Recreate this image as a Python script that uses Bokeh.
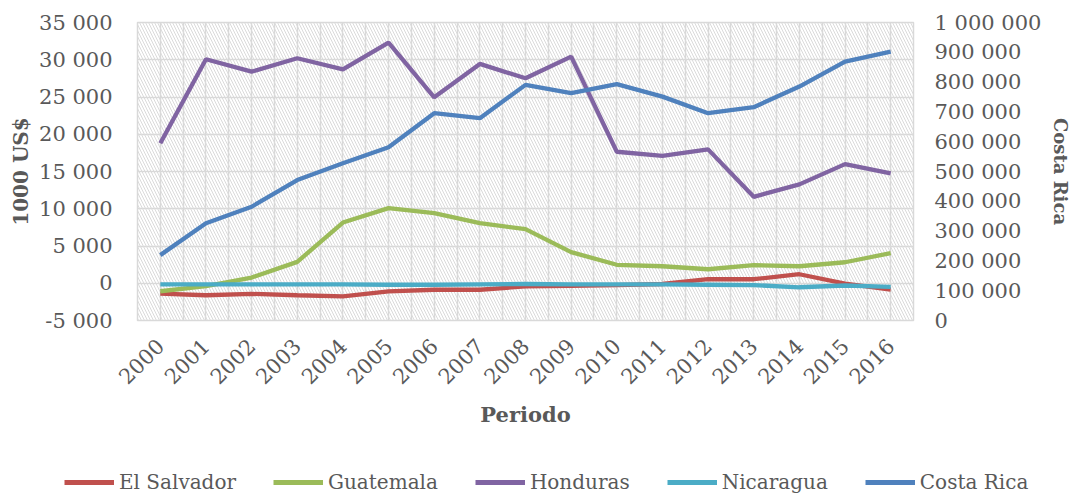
import math
from bokeh.plotting import figure
from bokeh.layouts import column
from bokeh.models import (Range1d, LinearAxis, SingleIntervalTicker, FixedTicker,
                          CustomJSTickFormatter, Legend, LegendItem, BoxAnnotation)
from bokeh.embed import file_html
from bokeh.resources import INLINE

years = list(range(2000, 2017))
year_labels = [str(y) for y in years]
el_salvador = [-1390, -1610, -1430, -1610, -1750, -1100, -870, -870, -430, -340, -250, -100, 540, 540, 1210, -50, -850]
guatemala = [-1075, -400, 770, 2870, 8150, 10080, 9410, 8070, 7260, 4180, 2480, 2280, 1880, 2420, 2280, 2820, 4030]
honduras = [18780, 30070, 28400, 30200, 28720, 32300, 24960, 29440, 27510, 30420, 17650, 17110, 17970, 11600, 13270, 15990, 14740]
nicaragua = [-150, -150, -150, -150, -150, -200, -200, -150, -100, -150, -150, -150, -200, -250, -540, -300, -500]
costa_rica = [219400, 326000, 381700, 471400, 527500, 581300, 695600, 678800, 790700, 762800, 793000, 751300, 695600, 715700, 785000, 869000, 902600]

series_names = ["El Salvador", "Guatemala", "Honduras", "Nicaragua", "Costa Rica"]
series_colors = ["#C0504D", "#9BBB59", "#8064A2", "#4BACC6", "#4F81BD"]

left_range = (-5000, 35000)
right_range = (0, 1000000)

FONT = "DejaVu Serif"
TXT = "#595959"
GRID = "#d9d9d9"
MAIN_H = 469
LEG_H = 26

p = figure(width=1074, height=MAIN_H, output_backend="svg", toolbar_location=None,
           x_range=Range1d(1999.5, 2016.5), y_range=Range1d(*left_range),
           min_border_left=137, min_border_right=161, min_border_top=22,
           min_border_bottom=MAIN_H - 320, background_fill_color="white",
           border_fill_color="white", outline_line_color=GRID, outline_line_width=1.5)
p.frame_align = False
p.extra_y_ranges = {"cr": Range1d(*right_range)}

# hatched plot background
p.add_layout(BoxAnnotation(fill_alpha=0, line_alpha=0, hatch_pattern="\\",
                           hatch_color="#dadada", hatch_scale=6, hatch_weight=1.0,
                           level="underlay"))

fmt = CustomJSTickFormatter(code="""
const s = Math.abs(Math.round(tick)).toString().replace(/\\B(?=(\\d{3})+(?!\\d))/g, ' ');
return (tick < 0 ? '-' : '') + s;
""")

xa = p.xaxis[0]
xa.ticker = FixedTicker(ticks=years)
xa.major_label_overrides = {y: l for y, l in zip(years, year_labels)}
xa.major_label_orientation = math.pi / 4
xa.axis_label = "Periodo"
ya = p.yaxis[0]
ya.ticker = SingleIntervalTicker(interval=5000)
ya.formatter = fmt
ya.axis_label = "1000 US$"
ra = LinearAxis(y_range_name="cr", ticker=SingleIntervalTicker(interval=100000),
                formatter=fmt, axis_label="Costa Rica")
p.add_layout(ra, "right")

for ax in (xa, ya, ra):
    ax.axis_line_color = None
    ax.major_tick_line_color = None
    ax.minor_tick_line_color = None
    ax.major_tick_out = 0
    ax.major_tick_in = 0
    ax.minor_tick_out = 0
    ax.minor_tick_in = 0
    ax.major_label_text_font = FONT
    ax.major_label_text_font_size = "21px"
    ax.major_label_text_color = TXT
    ax.axis_label_text_font = FONT
    ax.axis_label_text_font_style = "bold"
    ax.axis_label_text_color = TXT
    ax.axis_label_text_font_size = "20px"
xa.major_label_standoff = 22
xa.axis_label_standoff = 8
xa.axis_label_text_font_size = "21px"
ya.major_label_standoff = 25
ya.axis_label_standoff = 3
ra.major_label_standoff = 21
ra.axis_label_standoff = 6
ra.axis_label_text_font_size = "18px"

p.xgrid.ticker = FixedTicker(ticks=[1999.5 + 0.5 * i for i in range(35)])
p.xgrid.grid_line_color = GRID
p.ygrid.grid_line_color = GRID
p.xgrid.grid_line_width = 1.5
p.ygrid.grid_line_width = 1.5

W = 4.3
r1 = p.line(years, el_salvador, line_color=series_colors[0], line_width=W)
r2 = p.line(years, guatemala, line_color=series_colors[1], line_width=W)
r3 = p.line(years, honduras, line_color=series_colors[2], line_width=W)
r4 = p.line(years, nicaragua, line_color=series_colors[3], line_width=W)
r5 = p.line(years, costa_rica, line_color=series_colors[4], line_width=W, y_range_name="cr")

# legend strip below the chart (its own small figure, series lines hidden)
lf = figure(width=1074, height=LEG_H, output_backend="svg", toolbar_location=None,
            x_axis_type=None, y_axis_type=None, min_border=0,
            x_range=Range1d(1999.5, 2016.5), y_range=Range1d(*left_range),
            outline_line_color=None, background_fill_color="white",
            border_fill_color="white")
lf.frame_align = False
lf.xgrid.visible = False
lf.ygrid.visible = False
items = []
for name, color, vals in zip(series_names, series_colors,
                             [el_salvador, guatemala, honduras, nicaragua, costa_rica]):
    lr = lf.line(years, vals, line_color=color, line_width=5, visible=False)
    items.append(LegendItem(label=name, renderers=[lr]))
legend = Legend(items=items, orientation="horizontal", location=(64, 1),
                label_text_font=FONT, label_text_font_size="20px",
                label_text_color=TXT, glyph_width=50, glyph_height=20,
                label_standoff=5, spacing=37, padding=0, margin=0,
                border_line_color=None, background_fill_alpha=0)
lf.add_layout(legend)

layout = column(p, lf, spacing=0)
open("out.html", "w").write(file_html(layout, INLINE))
